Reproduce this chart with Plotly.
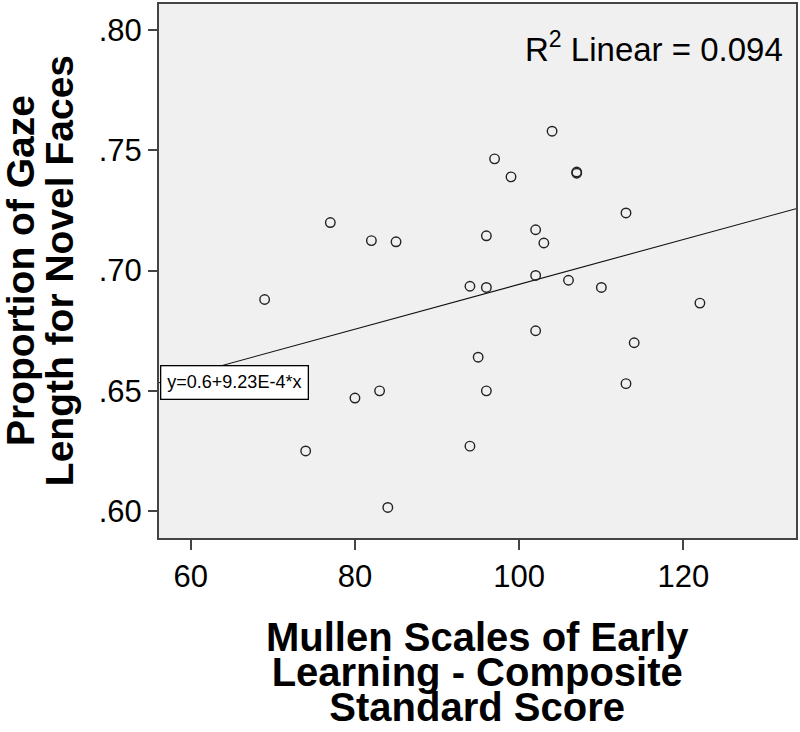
import numpy as np
import plotly.graph_objects as go

# ---- data ----
mullen_score = [77, 82, 85, 94, 104, 97, 99, 107, 107, 113, 96, 102, 103, 102, 106,
                96, 110, 122, 102, 95, 114, 96, 113, 94, 69, 80, 83, 74, 84]
gaze_prop = [0.720, 0.7125, 0.712, 0.6935, 0.758, 0.7465, 0.739, 0.7405, 0.741, 0.724,
             0.7145, 0.717, 0.7115, 0.698, 0.696, 0.693, 0.693, 0.6865, 0.675, 0.664,
             0.670, 0.650, 0.653, 0.627, 0.688, 0.647, 0.650, 0.625, 0.6015]

x_tickvals = [60, 80, 100, 120]
x_ticktext = ["60", "80", "100", "120"]
y_tickvals = [0.60, 0.65, 0.70, 0.75, 0.80]
y_ticktext = [".60", ".65", ".70", ".75", ".80"]

x_range = [56.14, 133.7]
y_range = [0.5888, 0.8109]

r2_label = "R<sup>2</sup> Linear = 0.094"
eq_label = "y=0.6+9.23E-4*x"
x_title_lines = ["Mullen Scales of Early", "Learning - Composite", "Standard Score"]
y_title_lines = ["Proportion of Gaze", "Length for Novel Faces"]

# ---- fit ----
xa = np.array(mullen_score, dtype=float)
ya = np.array(gaze_prop, dtype=float)
slope, intercept = np.polyfit(xa, ya, 1)
line_x = np.array(x_range)
line_y = intercept + slope * line_x

W, H = 800, 732
ML, MR, MT, MB = 159, 3, 2, 194
PW, PH = W - ML - MR, H - MT - MB

def px(xp):
    return (xp - ML) / PW

def py(yp):
    return 1 - (yp - MT) / PH

FONT = "Liberation Sans, Arial, sans-serif"

def title_text(lines, size):
    return "<br>".join('<span style="font-size:%dpx;font-weight:bold">%s</span>' % (size, t)
                       for t in lines)

fig = go.Figure()
fig.add_trace(go.Scatter(x=line_x, y=line_y, mode="lines",
                         line=dict(color="#111111", width=1.1),
                         hoverinfo="skip", showlegend=False))
fig.add_trace(go.Scatter(x=mullen_score, y=gaze_prop, mode="markers",
                         marker=dict(symbol="circle", size=9.5, color="rgba(0,0,0,0)",
                                     line=dict(color="#222222", width=1.4)),
                         showlegend=False))

annotations = []
# equation box anchored at left end of fit line
annotations.append(dict(x=x_range[0], y=float(line_y[0]), xref="x", yref="y",
                        text=eq_label, showarrow=False, xanchor="left", yanchor="middle",
                        xshift=1,
                        font=dict(family=FONT, size=18, color="#000000"),
                        bgcolor="#ffffff", bordercolor="#000000", borderwidth=1.3,
                        borderpad=6))
# R^2 label
annotations.append(dict(x=px(786), y=py(45), xref="paper", yref="paper", text=r2_label,
                        showarrow=False, xanchor="right", yanchor="middle",
                        font=dict(family=FONT, size=33, color="#000000")))
# x title (3 lines, tight spacing)
annotations.append(dict(x=0.5, y=py(673), xref="paper", yref="paper",
                        text=title_text(x_title_lines, 40),
                        showarrow=False, xanchor="center", yanchor="middle",
                        font=dict(family=FONT, size=27, color="#000000")))
# y title (2 lines)
annotations.append(dict(x=px(40), y=0.5, xref="paper", yref="paper",
                        text=title_text(y_title_lines, 39),
                        showarrow=False, xanchor="center", yanchor="middle", textangle=-90,
                        font=dict(family=FONT, size=30, color="#000000")))

fig.update_layout(
    width=W, height=H,
    margin=dict(l=ML, r=MR, t=MT, b=MB, pad=0),
    paper_bgcolor="#ffffff", plot_bgcolor="#f0f0f0",
    font=dict(family=FONT, color="#000000"),
    annotations=annotations,
    xaxis=dict(range=x_range, tickvals=x_tickvals, ticktext=x_ticktext,
               showgrid=False, zeroline=False, showline=True, linecolor="#444444",
               linewidth=2, mirror=True, ticks="outside", ticklen=10, tickwidth=1.5,
               tickcolor="#444444", tickfont=dict(family=FONT, size=31, color="#000000")),
    yaxis=dict(range=y_range, tickvals=y_tickvals, ticktext=y_ticktext,
               showgrid=False, zeroline=False, showline=True, linecolor="#444444",
               linewidth=2, mirror=True, ticks="outside", ticklen=9, tickwidth=1.5,
               tickcolor="#444444", tickfont=dict(family=FONT, size=31, color="#000000")),
)

fig.write_html("out.html", config={"displayModeBar": False},
               post_script="document.body.style.margin='0px';")
